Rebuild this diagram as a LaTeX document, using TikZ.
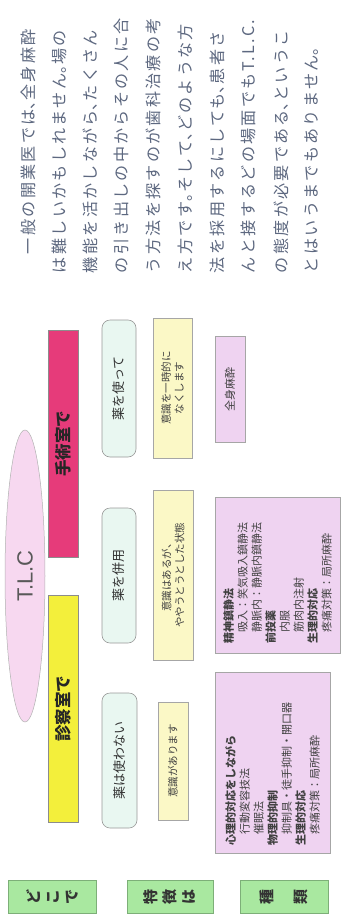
\documentclass[tikz,border=0pt]{standalone}
\usepackage{fontspec}
\setmainfont{Noto Sans CJK JP}
\newfontfamily\parafont[LetterSpace=14]{Noto Sans CJK JP}
\newfontfamily\lsans{Liberation Sans}
\usetikzlibrary{shapes.geometric,calc,patterns.meta}
\pgfdeclarelayer{bg}
\pgfsetlayers{bg,main}
\newcommand\halfp[1]{\makebox[0.55em][l]{#1}}
\definecolor{magbar}{HTML}{E63B7A}
\definecolor{yelbar}{HTML}{F3EF3B}
\definecolor{mint}{HTML}{E9F7F1}
\definecolor{paley}{HTML}{FBF8C6}
\definecolor{lilac}{HTML}{EFD3F1}
\definecolor{tlcpink}{HTML}{F7D8F0}
\definecolor{gfill}{HTML}{A9E8A0}
\definecolor{gbord}{HTML}{7DAF78}
\definecolor{bandgray}{HTML}{C4C7D0}
\definecolor{stripebg}{HTML}{E6E7EC}
\definecolor{stripegray}{HTML}{9DA1AC}
\definecolor{paratext}{HTML}{5D6880}
\begin{document}
\begin{tikzpicture}[x=1pt,y=-1pt,
  every node/.style={inner sep=0pt, outer sep=0pt},
  barbox/.style={rectangle, draw=black!45, line width=0.5pt, rotate=90, minimum height=30pt, minimum width=227pt, font=\fontsize{16.5}{17}\selectfont\bfseries},
  kbox/.style={rectangle, rounded corners=8pt, draw=black!40, line width=0.6pt, fill=mint, rotate=90, minimum height=34pt, text=black!80, font=\fontsize{13}{14}\selectfont},
  ybox/.style={rectangle, draw=black!35, line width=0.6pt, fill=paley, rotate=90, align=center, text=black!75, font=\fontsize{10.5}{13}\selectfont},
  pbox/.style={rectangle, draw=black!35, line width=0.6pt, fill=lilac, rotate=90, align=left, text=black!75, font=\fontsize{11}{14}\selectfont},
  gbox/.style={rectangle, draw=gbord, line width=0.6pt, fill=gfill, rotate=90, minimum width=33pt, minimum height=88pt, align=center, text=black!80, font=\fontsize{15}{19}\selectfont\bfseries},
  para/.style={rotate=90, anchor=west, text=paratext, font=\parafont\fontsize{16.1}{18}\selectfont},
  band/.style={fill=bandgray},
  stripes/.style={fill=stripebg, postaction={pattern={Lines[angle=#1,distance=4pt,line width=1.8pt]}, pattern color=stripegray}},
]
\useasboundingbox[fill=white] (0,0) rectangle (343,916);

% paragraph
\node[para] (t1) at (28,254) {一般の開業医では\halfp{、}全身麻酔};
\node[para] (t2) at (59,273) {は難しいかもしれません\halfp{。}場の};
\node[para] (t3) at (90,273) {機能を活かしながら\halfp{、}たくさん};
\node[para] (t4) at (121,273) {の引き出しの中からその人に合};
\node[para] (t5) at (153,273) {う方法を探すのが歯科治療の考};
\node[para] (t6) at (185,273) {え方です\halfp{。}そして\halfp{、}どのような方};
\node[para] (t7) at (217,273) {法を採用するにしても\halfp{、}患者さ};
\node[para] (t8) at (248,273) {んと接するどの場面でもT.L.C.};
\node[para] (t9) at (281,273) {の態度が必要である\halfp{、}というこ};
\node[para] (t10) at (312,273) {とはいうまでもありません\halfp{。}};

% T.L.C ellipse
\node[ellipse, draw=black!30, line width=0.5pt, fill=tlcpink, rotate=90, minimum width=292pt, minimum height=40pt, font=\lsans\fontsize{22}{22}\selectfont, text=black!65] (tlc) at (25,576) {T.L.C};

% bars
\node[barbox, fill=magbar, text=black!85] (topbar) at (63,443.5) {手術室で};
\node[barbox, fill=yelbar, text=black!85] (botbar) at (63,708.5) {診察室で};

% drug boxes
\node[kbox, minimum width=137pt] (k1) at (119,388.5) {薬を使って};
\node[kbox, minimum width=135pt] (k2) at (119,575.5) {薬を併用};
\node[kbox, minimum width=135pt, minimum height=35pt] (k3) at (119.5,760.5) {薬は使わない};

% consciousness boxes
\node[ybox, minimum width=140pt, minimum height=39pt] (y1) at (172.5,388) {意識を一時的に\\なくします};
\node[ybox, minimum width=170pt, minimum height=40pt] (y2) at (173,575) {意識はあるが、\\ややうとうとした状態};
\node[ybox, minimum width=118pt, minimum height=30pt] (y3) at (173,761) {意識があります};

% type boxes
\node[pbox, align=center, minimum width=106pt, minimum height=30pt] (p1) at (230,389) {全身麻酔};
\node[pbox, inner xsep=10pt, text width=136pt, minimum height=125pt] (p2) at (277.5,575) {\textbf{精神鎮静法}\\\quad 吸入：笑気吸入鎮静法\\\quad 静脈内：静脈内鎮静法\\\textbf{前投薬}\\\quad 内服\\\quad 筋肉内注射\\\textbf{生理的対応}\\\quad 疼痛対策：局所麻酔};
\node[pbox, inner xsep=8pt, text width=165pt, minimum height=115pt] (p3) at (272.5,762.5) {\textbf{心理的対応をしながら}\\\quad 行動変容技法\\\quad 催眠法\\\textbf{物理的抑制}\\\quad 抑制具・徒手抑制・開口器\\\textbf{生理的対応}\\\quad 疼痛対策：局所麻酔};

% row labels
\node[gbox] (g1) at (52.5,896.5) {ど\\こ\\で};
\node[gbox, minimum height=86pt] (g2) at (170,896.5) {特\\徴\\は};
\node[gbox] (g3) at (284,896.5) {種\\[15pt]類};

% connecting bands
\begin{pgfonlayer}{bg}
\fill[band] ($(topbar.south |- k1.center)+(0,-13)$) rectangle ($(p1.north |- k1.center)+(0,13)$);
\fill[band] ($(k2.south)+(0,-16)$) rectangle ($(p2.north |- k2.center)+(0,11)$);
\fill[band] ($(topbar.south west)+(0,-115)$) -- ($(k2.north east)+(0,2)$) -- ($(k2.north east)+(0,59)$) -- (topbar.south west) -- cycle;
\fill[stripes=-34] (botbar.south east) -- ($(k2.north east)+(0,74)$) -- ($(k2.north east)+(0,129)$) -- ($(botbar.south east)+(0,107)$) -- cycle;
\fill[stripes=90] ($(botbar.south |- k3.center)+(0,-15)$) rectangle ($(p3.north |- k3.center)+(0,14)$);
\end{pgfonlayer}
\end{tikzpicture}
\end{document}
